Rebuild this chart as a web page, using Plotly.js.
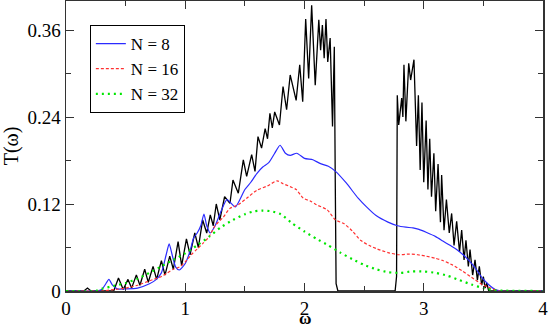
<!DOCTYPE html>
<html>
<head>
<meta charset="utf-8">
<script src="https://cdn.plot.ly/plotly-3.0.1.min.js"></script>
<style>
  body { margin: 0; background: #fff; }
  #chart { width: 554px; height: 328px; }
</style>
</head>
<body>
<div id="chart"></div>
<script>
// black curve (no legend entry)
const wBlack = [0, 0.15, 0.18, 0.21, 0.4, 0.44, 0.48, 0.52, 0.55, 0.59, 0.62, 0.66, 0.69, 0.73, 0.76, 0.8, 0.83,
  0.87, 0.9, 0.94, 0.97, 1.01, 1.04, 1.08, 1.11, 1.146, 1.18, 1.21, 1.235, 1.26, 1.29, 1.33, 1.375, 1.40,
  1.445, 1.487, 1.515, 1.557, 1.585, 1.61, 1.64, 1.67, 1.69, 1.71, 1.73, 1.75, 1.79, 1.82, 1.85, 1.88,
  1.93, 1.96, 1.985, 2.01, 2.035, 2.06, 2.09, 2.12, 2.135, 2.15, 2.165, 2.18, 2.195, 2.215, 2.235, 2.25,
  2.258, 2.265, 2.28, 2.76, 2.772, 2.778, 2.79, 2.815, 2.825, 2.834, 2.85, 2.874, 2.89, 2.918, 2.94,
  2.955, 2.97, 2.985, 3.0, 3.02, 3.035, 3.05, 3.065, 3.085, 3.1, 3.12, 3.14, 3.15, 3.17, 3.19, 3.214,
  3.234, 3.254, 3.276, 3.3, 3.318, 3.338, 3.354, 3.374, 3.388, 3.41, 3.43, 3.45, 3.466, 3.486, 3.5,
  3.514, 3.528, 3.545, 4];
const tBlack = [0, 0, 0.004, 0, 0, 0.018, 0.002, 0.016, 0.004, 0.022, 0.008, 0.03, 0.012, 0.034, 0.016, 0.042, 0.022,
  0.048, 0.03, 0.068, 0.035, 0.072, 0.05, 0.08, 0.06, 0.098, 0.08, 0.105, 0.09, 0.12, 0.098, 0.13, 0.121, 0.153,
  0.135, 0.181, 0.158, 0.188, 0.165, 0.213, 0.197, 0.224, 0.21, 0.245, 0.225, 0.247, 0.229, 0.282, 0.25, 0.298,
  0.263, 0.312, 0.261, 0.375, 0.293, 0.394, 0.284, 0.374, 0.332, 0.367, 0.321, 0.375, 0.316, 0.349, 0.227, 0.337,
  0.15, 0.01, 0, 0, 0.02, 0.27, 0.229, 0.266, 0.24, 0.312, 0.234, 0.314, 0.291, 0.319, 0.2,
  0.27, 0.167, 0.26, 0.15, 0.235, 0.14, 0.21, 0.13, 0.19, 0.11, 0.175, 0.095, 0.16, 0.084, 0.126, 0.08,
  0.107, 0.063, 0.096, 0.054, 0.084, 0.043, 0.07, 0.034, 0.057, 0.022, 0.043, 0.015, 0.034, 0.008, 0.02,
  0.004, 0.011, 0, 0];

// N = 8
const w8 = [0, 0.25, 0.3, 0.33, 0.36, 0.39, 0.43, 0.5, 0.6, 0.7, 0.75, 0.8, 0.84, 0.865, 0.89, 0.92, 0.95, 1.0,
  1.04, 1.07, 1.1, 1.13, 1.157, 1.18, 1.21, 1.25, 1.3, 1.35, 1.42, 1.5, 1.55, 1.6, 1.65, 1.7, 1.75, 1.795, 1.84,
  1.88, 1.935, 2.0, 2.07, 2.13, 2.2, 2.26, 2.35, 2.45, 2.52, 2.6, 2.7, 2.78, 2.85, 2.91, 2.96, 3.02, 3.1, 3.16,
  3.22, 3.27, 3.33, 3.38, 3.44, 3.49, 3.55, 3.6, 3.65, 4];
const t8 = [0, 0, 0.002, 0.009, 0.016, 0.008, 0.003, 0.003, 0.004, 0.01, 0.015, 0.025, 0.05, 0.065, 0.05, 0.033, 0.029, 0.038,
  0.055, 0.073, 0.08, 0.09, 0.106, 0.09, 0.08, 0.09, 0.11, 0.126, 0.116, 0.14, 0.15, 0.162, 0.171, 0.177, 0.19, 0.201, 0.19,
  0.187, 0.19, 0.183, 0.181, 0.176, 0.172, 0.165, 0.149, 0.128, 0.116, 0.104, 0.095, 0.09, 0.088, 0.087, 0.085, 0.081, 0.075, 0.069,
  0.063, 0.058, 0.05, 0.042, 0.03, 0.018, 0.008, 0.002, 0, 0];

// N = 16
const w16 = [0, 0.3, 0.4, 0.5, 0.6, 0.7, 0.8, 0.85, 0.9, 0.95, 1.0, 1.05, 1.1, 1.15, 1.2, 1.25, 1.32, 1.375, 1.445,
  1.515, 1.6, 1.69, 1.77, 1.82, 1.88, 1.93, 1.99, 2.05, 2.1, 2.19, 2.26, 2.33, 2.4, 2.47, 2.54, 2.61, 2.7, 2.79,
  2.88, 2.95, 3.02, 3.1, 3.16, 3.24, 3.32, 3.4, 3.49, 3.56, 3.63, 4];
const t16 = [0, 0, 0.002, 0.004, 0.008, 0.014, 0.02, 0.025, 0.03, 0.033, 0.04, 0.05, 0.058, 0.066, 0.075, 0.09, 0.102, 0.114, 0.119,
  0.128, 0.139, 0.145, 0.152, 0.148, 0.144, 0.14, 0.128, 0.124, 0.119, 0.112, 0.098, 0.093, 0.083, 0.07, 0.063, 0.058, 0.053, 0.05,
  0.051, 0.05, 0.048, 0.045, 0.042, 0.036, 0.028, 0.019, 0.009, 0.004, 0, 0];

// N = 32
const w32 = [0, 0.25, 0.3, 0.4, 0.5, 0.6, 0.7, 0.8, 0.9, 1.0, 1.1, 1.2, 1.3, 1.4, 1.5, 1.58, 1.65, 1.72, 1.8, 1.9,
  2.0, 2.1, 2.2, 2.3, 2.4, 2.5, 2.6, 2.7, 2.8, 2.9, 3.0, 3.1, 3.2, 3.3, 3.4, 3.5, 3.6, 4];
const t32 = [0, 0, 0.003, 0.007, 0.011, 0.017, 0.025, 0.034, 0.043, 0.052, 0.063, 0.075, 0.088, 0.098, 0.106, 0.11, 0.111, 0.11, 0.106, 0.093,
  0.082, 0.072, 0.063, 0.053, 0.044, 0.036, 0.03, 0.026, 0.025, 0.027, 0.027, 0.025, 0.021, 0.015, 0.009, 0.004, 0.001, 0];

const xTicks = [0, 1, 2, 3, 4];
const yTicks = [0, 0.12, 0.24, 0.36];
const yTickText = ['0', '0.12', '0.24', '0.36'];

const serif = "'Liberation Serif', 'Times New Roman', serif";

const black = {
    x: wBlack, y: tBlack, mode: 'lines',
    line: { color: '#000', width: 1.3 },
    showlegend: false, hoverinfo: 'skip'
};
const n8 = {
    x: w8, y: t8, mode: 'lines', name: 'N = 8',
    line: { color: '#2b2bff', width: 1.2, shape: 'spline', smoothing: 0.6 }
};
const n16 = {
    x: w16, y: t16, mode: 'lines', name: 'N = 16',
    line: { color: '#ff3030', width: 1.2, dash: '3px,2px', shape: 'spline', smoothing: 0.6 }
};
const n32 = {
    x: w32, y: t32, mode: 'lines', name: 'N = 32',
    line: { color: '#00e600', width: 2.2, dash: '2px,4px', shape: 'spline', smoothing: 0.6 }
};

const axisCommon = {
    showgrid: false, zeroline: false,
    showline: true, linecolor: '#333', linewidth: 1.5, mirror: 'ticks',
    ticks: 'inside', ticklen: 8, tickwidth: 1, tickcolor: '#333',
    tickfont: { family: serif, size: 19, color: '#000' }
};

const layout = {
    width: 554, height: 328,
    margin: { l: 66, r: 11, t: 1, b: 37 },
    paper_bgcolor: '#fff', plot_bgcolor: '#fff',
    font: { family: serif },
    xaxis: Object.assign({}, axisCommon, {
        range: [0, 4], tickvals: xTicks,
        minor: { dtick: 0.5, ticks: 'inside', ticklen: 5, tickcolor: '#333' }
    }),
    yaxis: Object.assign({}, axisCommon, {
        range: [0, 0.4], tickvals: yTicks, ticktext: yTickText,
        minor: { dtick: 0.06, ticks: 'inside', ticklen: 5, tickcolor: '#333' },
        title: { text: 'T(ω)', font: { family: serif, size: 20, color: '#000' }, standoff: 6 }
    }),
    // x title as annotation so it can sit below the margin limit like the original
    annotations: [{
        text: '<b>ω</b>', xref: 'paper', yref: 'paper', x: 0.5, y: 0,
        xanchor: 'center', yanchor: 'middle', yshift: -27, showarrow: false, borderpad: 0,
        font: { family: serif, size: 17, color: '#000' }
    }],
    legend: {
        x: 0.05, y: 0.917, xanchor: 'left', yanchor: 'top',
        bgcolor: '#fff', bordercolor: '#000', borderwidth: 1,
        font: { family: serif, size: 17, color: '#000' },
        tracegroupgap: 0, itemwidth: 30
    }
};

Plotly.newPlot('chart', [black, n8, n16, n32], layout, { displayModeBar: false, staticPlot: true });
</script>
</body>
</html>
